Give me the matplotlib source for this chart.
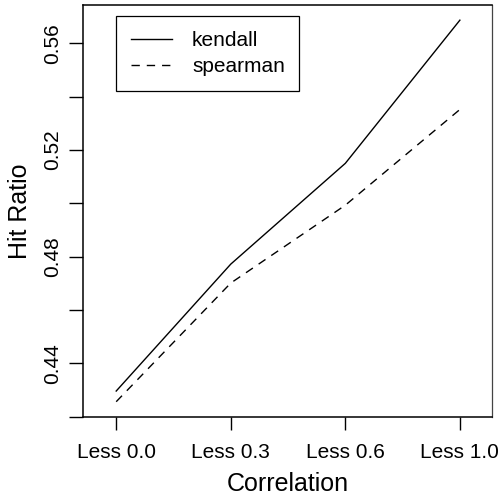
import numpy as np
import matplotlib
matplotlib.use("Agg")
import matplotlib.pyplot as plt

plt.rcParams['font.family'] = ['Liberation Sans', 'DejaVu Sans']
plt.rcParams['lines.scale_dashes'] = False

categories = ['Less 0.0', 'Less 0.3', 'Less 0.6', 'Less 1.0']
kendall = [0.4296, 0.4772, 0.5150, 0.5687]
spearman = [0.4256, 0.4701, 0.4993, 0.5352]

yticks = [0.42, 0.44, 0.46, 0.48, 0.50, 0.52, 0.54, 0.56]
ylabels = ['', '0.44', '', '0.48', '', '0.52', '', '0.56']

fig = plt.figure(figsize=(5.02, 4.96), dpi=100)
ax = fig.add_axes([0.1653, 0.160, 0.8147, 0.830])

x = np.arange(len(categories))
ax.plot(x, kendall, color='black', lw=1.0, label='kendall')
ax.plot(x, spearman, color='black', lw=1.0, linestyle=(0, (6, 5)), label='spearman')

ax.set_xlim(-0.29, 3.28)
ax.set_ylim(0.42, 0.5744)
ax.set_xticks(x)
ax.set_xticklabels(categories, fontsize=15)
ax.set_yticks(yticks)
ax.set_yticklabels(ylabels, fontsize=15, rotation=90, va='center')

ax.tick_params(axis='x', length=9, width=1, pad=10)
ax.tick_params(axis='y', length=10, width=1, pad=5)
for s in ax.spines.values():
    s.set_linewidth(1.1)
ax.spines['right'].set_linewidth(0.9)
ax.spines['right'].set_color('#444444')

ax.set_xlabel('Correlation', fontsize=18, labelpad=7)
ax.set_ylabel('Hit Ratio', fontsize=18, labelpad=8)

leg = ax.legend(loc='upper left', bbox_to_anchor=(0.0806, 0.972), fontsize=15,
                frameon=True, fancybox=False, edgecolor='black', framealpha=1,
                handlelength=2.0, handletextpad=0.95, borderpad=0.7,
                labelspacing=0.35, borderaxespad=0)
leg.get_frame().set_linewidth(0.9)

fig.savefig('out.png', dpi=100)
